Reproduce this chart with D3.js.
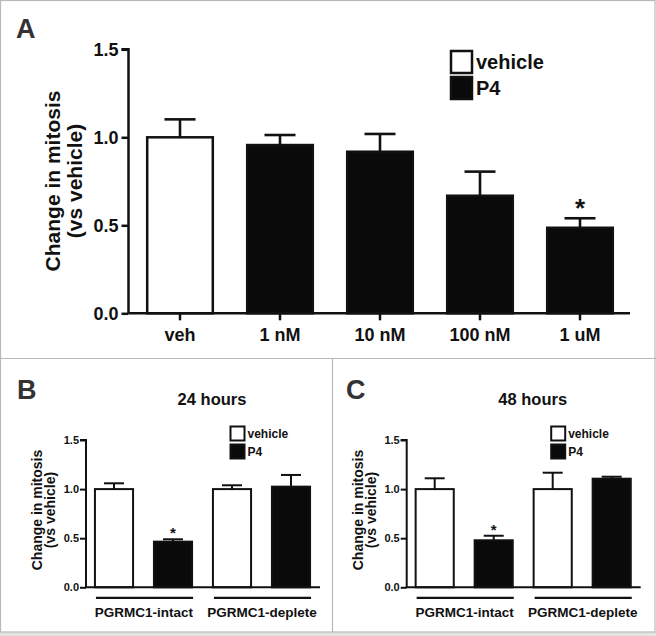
<!DOCTYPE html>
<html>
<head>
<meta charset="utf-8">
<script src="https://cdn.jsdelivr.net/npm/d3@7"></script>
<style>
  html, body { margin: 0; padding: 0; background: #fff; }
  svg { display: block; font-family: "Liberation Sans", Arial, Helvetica, sans-serif; }
</style>
</head>
<body>
<svg id="chart" width="656" height="636"></svg>
<script>
// ---------------- data ----------------
const doseCategories = ["veh", "1 nM", "10 nM", "100 nM", "1 uM"];
const doseSeries = ["vehicle", "P4", "P4", "P4", "P4"];
const doseMeans = [1.0, 0.956, 0.918, 0.668, 0.486];
const doseErrors = [0.102, 0.057, 0.101, 0.137, 0.054];
const doseSignificant = [false, false, false, false, true];

const yTickValues = [0.0, 0.5, 1.0, 1.5];
const legendSeries = ["vehicle", "P4"];

const groups = ["PGRMC1-intact", "PGRMC1-deplete"];
const vehicle24Means = [1.0, 1.0];
const vehicle24Errors = [0.059, 0.039];
const p4_24Means = [0.465, 1.025];
const p4_24Errors = [0.024, 0.119];
const p4_24Significant = [true, false];

const vehicle48Means = [1.0, 1.0];
const vehicle48Errors = [0.11, 0.167];
const p4_48Means = [0.479, 1.106];
const p4_48Errors = [0.046, 0.02];
const p4_48Significant = [true, false];

const fill = { vehicle: "#ffffff", P4: "#0a0a0a" };
const ink = "#111";

const svg = d3.select("#chart");

// ---------------- frame ----------------
const frameColor = "#b9b9b9";
svg.append("rect").attr("x", 0).attr("y", 632).attr("width", 656).attr("height", 4).attr("fill", "#e4e4e4");
svg.append("rect").attr("x", 0.5).attr("y", 0.5).attr("width", 654.5).attr("height", 631.5)
  .attr("fill", "none").attr("stroke", frameColor).attr("stroke-width", 1.2);
svg.append("line").attr("x1", 0).attr("x2", 656).attr("y1", 358.5).attr("y2", 358.5)
  .attr("stroke", frameColor).attr("stroke-width", 1.2);
svg.append("line").attr("x1", 332.5).attr("x2", 332.5).attr("y1", 358.5).attr("y2", 632)
  .attr("stroke", frameColor).attr("stroke-width", 1.2);

// panel letters
function panelLetter(x, y, t) {
  svg.append("text").attr("x", x).attr("y", y).text(t)
    .attr("font-size", 27).attr("font-weight", "bold").attr("fill", "#333");
}
panelLetter(16, 38, "A");
panelLetter(17, 399, "B");
panelLetter(346, 399, "C");

// ---------------- panel A ----------------
(function () {
  const x = d3.scaleBand().domain(doseCategories).range([130, 630]).paddingInner(0.32).paddingOuter(0.16);
  const y = d3.scaleLinear().domain([0, 1.5]).range([313.3, 49.3]);
  const g = svg.append("g");

  const rows = doseCategories.map((c, i) => ({ c, s: doseSeries[i], m: doseMeans[i], e: doseErrors[i], sig: doseSignificant[i] }));
  // error bars (upper only)
  const eb = g.append("g");
  rows.forEach(r => {
    const cx = x(r.c) + x.bandwidth() / 2;
    eb.append("line").attr("x1", cx).attr("x2", cx).attr("y1", y(r.m)).attr("y2", y(r.m + r.e))
      .attr("stroke", ink).attr("stroke-width", 2.6);
    eb.append("line").attr("x1", cx - 15.5).attr("x2", cx + 15.5).attr("y1", y(r.m + r.e)).attr("y2", y(r.m + r.e))
      .attr("stroke", ink).attr("stroke-width", 2.6);
    if (r.sig) {
      g.append("text").attr("x", cx).attr("y", y(r.m + r.e) - 1).attr("text-anchor", "middle")
        .attr("font-size", 26).attr("font-weight", "bold").attr("fill", ink).text("*");
    }
  });
  g.selectAll("rect.bar").data(rows).join("rect")
    .attr("class", "bar")
    .attr("x", d => x(d.c) + 1.2)
    .attr("width", x.bandwidth() - 2.4)
    .attr("y", d => y(d.m))
    .attr("height", d => y(0) - y(d.m))
    .attr("fill", d => fill[d.s])
    .attr("stroke", ink).attr("stroke-width", 2.5);

  // y axis
  const ya = g.append("g").attr("transform", "translate(128.5,0)")
    .call(d3.axisLeft(y).tickValues(yTickValues).tickFormat(d3.format(".1f")).tickSize(7).tickPadding(3));
  ya.select(".domain").attr("stroke", ink).attr("stroke-width", 2.5).attr("d", `M-7,${y(1.5)}H0V${y(0)}`);
  ya.selectAll(".tick line").attr("stroke", ink).attr("stroke-width", 2.5);
  ya.selectAll(".tick text").attr("font-size", 18).attr("font-weight", "bold").attr("fill", ink)
    .attr("font-family", "Liberation Sans, Arial, sans-serif");

  // x axis
  const xa = g.append("g").attr("transform", `translate(0,${y(0)})`)
    .call(d3.axisBottom(x).tickSize(7).tickPadding(8));
  xa.select(".domain").attr("stroke", ink).attr("stroke-width", 2.5).attr("d", "M128.5,0H630");
  xa.selectAll(".tick line").attr("stroke", ink).attr("stroke-width", 2.5);
  xa.selectAll(".tick text").attr("font-size", 18).attr("font-weight", "bold").attr("fill", ink)
    .attr("font-family", "Liberation Sans, Arial, sans-serif");

  // y title
  const yt = g.append("text").attr("transform", "translate(0,181) rotate(-90)")
    .attr("text-anchor", "middle").attr("font-size", 21).attr("font-weight", "bold").attr("fill", ink);
  yt.append("tspan").attr("x", 0).attr("y", 60).text("Change in mitosis");
  yt.append("tspan").attr("x", 0).attr("y", 82).text("(vs vehicle)");

  // legend
  const lg = g.append("g");
  legendSeries.forEach((s, i) => {
    const top = 51 + i * 26;
    lg.append("rect").attr("x", 451).attr("y", top).attr("width", 21).attr("height", 22)
      .attr("fill", fill[s]).attr("stroke", ink).attr("stroke-width", 2.5);
    lg.append("text").attr("x", 476).attr("y", top + 18).attr("font-size", 20).attr("font-weight", "bold")
      .attr("fill", ink).text(s);
  });
})();

// ---------------- panels B & C ----------------
function smallPanel(x0px, title, vMeans, vErr, pMeans, pErr, pSig) {
  const g = svg.append("g");
  const gx = d3.scaleBand().domain(groups).range([x0px - 1.5, x0px + 234.5]).padding(0);
  const ix = d3.scaleBand().domain(legendSeries).range([0, gx.bandwidth()]).paddingInner(0.32).paddingOuter(0.16);
  const y = d3.scaleLinear().domain([0, 1.5]).range([587.3, 440]);

  const rows = [];
  groups.forEach((gr, i) => {
    rows.push({ g: gr, s: "vehicle", m: vMeans[i], e: vErr[i], sig: false });
    rows.push({ g: gr, s: "P4", m: pMeans[i], e: pErr[i], sig: pSig[i] });
  });

  rows.forEach(r => {
    const cx = gx(r.g) + ix(r.s) + ix.bandwidth() / 2;
    g.append("line").attr("x1", cx).attr("x2", cx).attr("y1", y(r.m)).attr("y2", y(r.m + r.e))
      .attr("stroke", ink).attr("stroke-width", 2);
    g.append("line").attr("x1", cx - 10).attr("x2", cx + 10).attr("y1", y(r.m + r.e)).attr("y2", y(r.m + r.e))
      .attr("stroke", ink).attr("stroke-width", 2);
    if (r.sig) {
      g.append("text").attr("x", cx).attr("y", y(r.m + r.e) - 1).attr("text-anchor", "middle")
        .attr("font-size", 15).attr("font-weight", "bold").attr("fill", ink).text("*");
    }
  });
  g.selectAll("rect.bar").data(rows).join("rect")
    .attr("class", "bar")
    .attr("x", d => gx(d.g) + ix(d.s) + 1)
    .attr("width", ix.bandwidth() - 2)
    .attr("y", d => y(d.m))
    .attr("height", d => y(0) - y(d.m))
    .attr("fill", d => fill[d.s])
    .attr("stroke", ink).attr("stroke-width", 2);

  // y axis
  const ya = g.append("g").attr("transform", `translate(${x0px},0)`)
    .call(d3.axisLeft(y).tickValues(yTickValues).tickFormat(d3.format(".1f")).tickSize(6).tickPadding(1));
  ya.select(".domain").attr("stroke", ink).attr("stroke-width", 2).attr("d", `M-6,${y(1.5)}H0V${y(0)}`);
  ya.selectAll(".tick line").attr("stroke", ink).attr("stroke-width", 2);
  ya.selectAll(".tick text").attr("font-size", 11).attr("font-weight", "bold").attr("fill", ink)
    .attr("font-family", "Liberation Sans, Arial, sans-serif");

  // x axis line
  g.append("line").attr("x1", x0px - 1).attr("x2", x0px + 234).attr("y1", y(0)).attr("y2", y(0))
    .attr("stroke", ink).attr("stroke-width", 2);

  // group lines & labels
  groups.forEach(gr => {
    const left = gx(gr) + ix("vehicle") + 1;
    const right = gx(gr) + ix("P4") + ix.bandwidth();
    g.append("line").attr("x1", left + 1).attr("x2", right).attr("y1", 597.8).attr("y2", 597.8)
      .attr("stroke", ink).attr("stroke-width", 2.2);
    g.append("text").attr("x", (left + right) / 2).attr("y", 617).attr("text-anchor", "middle")
      .attr("font-size", 13.5).attr("font-weight", "bold").attr("fill", ink).text(gr);
  });

  // title
  g.append("text").attr("x", x0px + 126).attr("y", 405).attr("text-anchor", "middle")
    .attr("font-size", 16.5).attr("font-weight", "bold").attr("fill", ink).text(title);

  // y title
  const yt = g.append("text").attr("transform", `translate(0,510) rotate(-90)`)
    .attr("text-anchor", "middle").attr("font-size", 14).attr("font-weight", "bold").attr("fill", ink);
  yt.append("tspan").attr("x", 0).attr("y", x0px - 44).text("Change in mitosis");
  yt.append("tspan").attr("x", 0).attr("y", x0px - 31).text("(vs vehicle)");

  // legend
  legendSeries.forEach((s, i) => {
    const top = 426.5 + i * 18;
    g.append("rect").attr("x", x0px + 144.5).attr("y", top).attr("width", 14).attr("height", 14)
      .attr("fill", fill[s]).attr("stroke", ink).attr("stroke-width", 2);
    g.append("text").attr("x", x0px + 161.5).attr("y", top + 11).attr("font-size", 12).attr("font-weight", "bold")
      .attr("fill", ink).text(s);
  });
}

smallPanel(86, "24 hours", vehicle24Means, vehicle24Errors, p4_24Means, p4_24Errors, p4_24Significant);
smallPanel(406.7, "48 hours", vehicle48Means, vehicle48Errors, p4_48Means, p4_48Errors, p4_48Significant);
</script>
</body>
</html>
